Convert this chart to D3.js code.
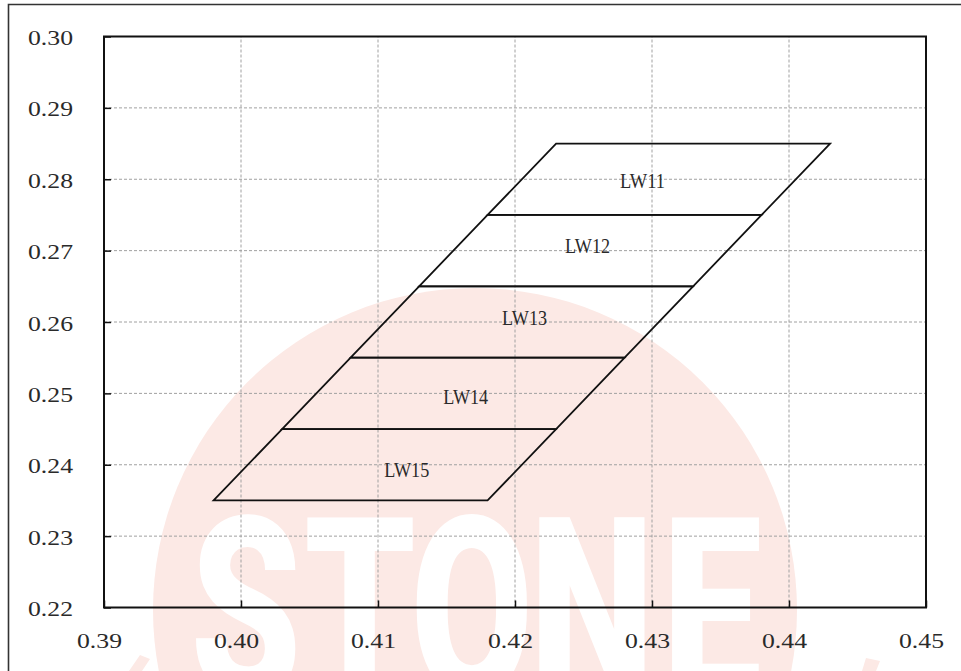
<!DOCTYPE html>
<html>
<head>
<meta charset="utf-8">
<script src="https://cdn.jsdelivr.net/npm/d3@7/dist/d3.min.js"></script>
<style>
  html, body { margin: 0; padding: 0; background: #ffffff; }
  svg { display: block; }
</style>
</head>
<body>
<div id="chart"></div>
<script>
// ---------------- data ----------------
const panels = ["LW11", "LW12", "LW13", "LW14", "LW15"];
const boundaryY = [0.285, 0.275, 0.265, 0.255, 0.245, 0.235];
const boundaryLeftX = [0.423, 0.418, 0.413, 0.408, 0.403, 0.398];
const boundaryRightX = [0.443, 0.438, 0.433, 0.428, 0.423, 0.418];
const labelX = [0.4293, 0.4253, 0.4207, 0.4164, 0.4121];
const labelY = [0.2799, 0.2708, 0.2607, 0.2496, 0.2394];
const xTicks = [0.39, 0.40, 0.41, 0.42, 0.43, 0.44, 0.45];
const yTicks = [0.22, 0.23, 0.24, 0.25, 0.26, 0.27, 0.28, 0.29, 0.30];
const watermarkLetters = ["S", "T", "O", "N", "E"];

// ---------------- layout ----------------
const W = 961, H = 671;
const svg = d3.select("#chart").append("svg").attr("width", W).attr("height", H);

const x = d3.scaleLinear().domain([0.39, 0.45]).range([104, 926]);
const y = d3.scaleLinear().domain([0.22, 0.30]).range([607.5, 36.5]);

// ---------------- watermark (background stamp) ----------------
const wm = svg.append("g").attr("class", "watermark");
wm.append("circle").attr("cx", 475).attr("cy", 610).attr("r", 322).attr("fill", "#fce9e5");
wm.append("polygon").attr("points", "866,658 880,661 876,671 862,671").attr("fill", "#fce9e5");
wm.append("polygon").attr("points", "140,655 150,659 142,671 129,671").attr("fill", "#fce9e5");
const letterCenters = [246, 360, 472, 592, 712];
wm.selectAll("text.wm").data(watermarkLetters).enter().append("text")
  .attr("class", "wm")
  .attr("transform", (d, i) => `translate(${letterCenters[i]},697) scale(0.7,1)`)
  .attr("text-anchor", "middle")
  .attr("font-family", "Roboto, 'DejaVu Sans', sans-serif")
  .attr("font-weight", 900)
  .attr("font-size", 253)
  .attr("fill", "#ffffff")
  .text(d => d);

// ---------------- outer border ----------------
svg.append("path")
  .attr("d", `M8.5,${H + 2} L8.5,4.5 L${W + 2},4.5`)
  .attr("fill", "none").attr("stroke", "#333").attr("stroke-width", 1.6);

// ---------------- grid ----------------
const grid = svg.append("g").attr("class", "grid");
grid.selectAll("line.gx").data(xTicks.slice(1, -1)).enter().append("line")
  .attr("x1", d => x(d)).attr("x2", d => x(d))
  .attr("y1", y(0.22)).attr("y2", y(0.30))
  .attr("stroke", "#a0a0a0").attr("stroke-width", 1).attr("stroke-dasharray", "3,2");
grid.selectAll("line.gy").data(yTicks.slice(1, -1)).enter().append("line")
  .attr("y1", d => y(d)).attr("y2", d => y(d))
  .attr("x1", x(0.39)).attr("x2", x(0.45))
  .attr("stroke", "#a0a0a0").attr("stroke-width", 1).attr("stroke-dasharray", "3,2");

// ---------------- axes ----------------
const fmt = d3.format(".2f");
const xAxis = d3.axisBottom(x).tickValues(xTicks).tickSizeInner(-7).tickSizeOuter(0).tickFormat(fmt);
const yAxis = d3.axisLeft(y).tickValues(yTicks).tickSizeInner(-7).tickSizeOuter(0).tickFormat(fmt);

const gx = svg.append("g").attr("transform", `translate(0,${y(0.22)})`).call(xAxis);
const gy = svg.append("g").attr("transform", `translate(${x(0.39)},0)`).call(yAxis);
[gx, gy].forEach(g => {
  g.select(".domain").remove();
  g.selectAll(".tick line").attr("stroke", "#111").attr("stroke-width", 1.5);
  g.selectAll(".tick text")
    .attr("font-family", "'Liberation Serif', 'DejaVu Serif', serif")
    .attr("font-size", 21)
    .attr("fill", "#2a2a2a")
    .attr("textLength", 45)
    .attr("lengthAdjust", "spacingAndGlyphs");
});
gx.selectAll(".tick text").attr("y", 0).attr("dy", 0).attr("x", -5)
  .attr("transform", "translate(0,40.5)").attr("text-anchor", "middle");
gy.selectAll(".tick text").attr("x", 0).attr("dy", 0)
  .attr("transform", "translate(-31,8)").attr("text-anchor", "end");

// plot frame
svg.append("rect")
  .attr("x", x(0.39)).attr("y", y(0.30))
  .attr("width", x(0.45) - x(0.39)).attr("height", y(0.22) - y(0.30))
  .attr("fill", "none").attr("stroke", "#111").attr("stroke-width", 2);

// ---------------- panels ----------------
const panelG = svg.append("g").attr("class", "panels");
panels.forEach((name, i) => {
  const pts = [
    [boundaryLeftX[i], boundaryY[i]],
    [boundaryRightX[i], boundaryY[i]],
    [boundaryRightX[i + 1], boundaryY[i + 1]],
    [boundaryLeftX[i + 1], boundaryY[i + 1]]
  ];
  panelG.append("polygon")
    .attr("points", pts.map(p => `${x(p[0])},${y(p[1])}`).join(" "))
    .attr("fill", "none").attr("stroke", "#111").attr("stroke-width", 1.8)
    .attr("stroke-linejoin", "miter");
  panelG.append("text")
    .attr("x", x(labelX[i])).attr("y", y(labelY[i]))
    .attr("dy", "0.36em")
    .attr("text-anchor", "middle")
    .attr("font-family", "'Liberation Serif', 'DejaVu Serif', serif")
    .attr("font-size", 22)
    .attr("fill", "#2a2a2a")
    .attr("textLength", 45)
    .attr("lengthAdjust", "spacingAndGlyphs")
    .text(name);
});
</script>
</body>
</html>
